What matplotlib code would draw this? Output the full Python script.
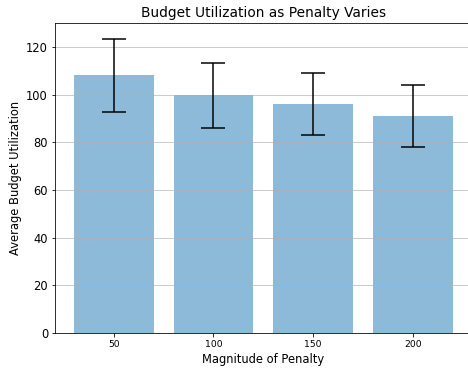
import matplotlib
matplotlib.use("Agg")
import matplotlib.pyplot as plt

penalties = [50, 100, 150, 200]
mean_util = [108.0, 99.6, 96.1, 91.0]
std_util = [15.2, 13.7, 13.0, 12.9]

fig = plt.figure(figsize=(468 / 72, 374 / 72), dpi=72)
ax = fig.add_axes([55 / 468, 41 / 374, 416.5 / 468, 310 / 374])

ax.bar(penalties, mean_util, width=40, yerr=std_util, capsize=12,
       color="#1f77b4", alpha=0.5, ecolor="black",
       error_kw=dict(elinewidth=1.5, capthick=1.5))

ax.set_ylim(0, 130)
ax.set_xticks(penalties)
ax.set_xticklabels([str(p) for p in penalties], fontsize=9.2)
ax.tick_params(axis="y", labelsize=11.5)
ax.set_xlabel("Magnitude of Penalty", fontsize=11.5)
ax.set_ylabel("Average Budget Utilization", fontsize=11.5)
ax.set_title("Budget Utilization as Penalty Varies", fontsize=13.8)
ax.yaxis.grid(True, color="#b0b0b0", alpha=0.8)
ax.spines["right"].set_visible(False)

fig.savefig("out.png", dpi=72)
